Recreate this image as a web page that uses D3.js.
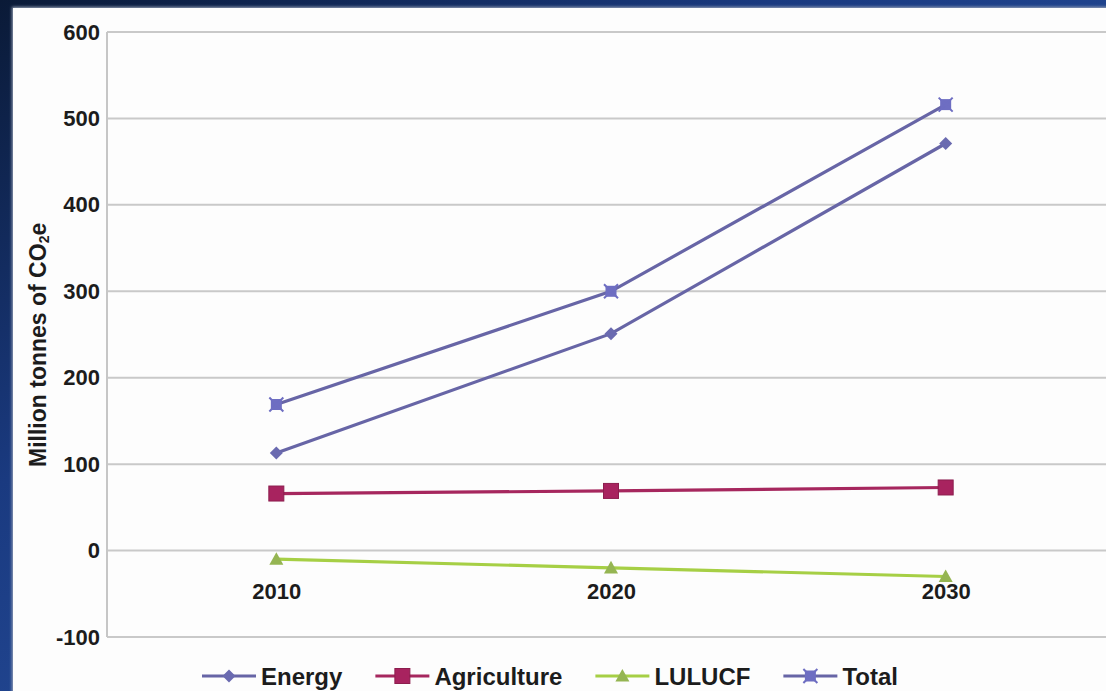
<!DOCTYPE html>
<html>
<head>
<meta charset="utf-8">
<script src="https://cdn.jsdelivr.net/npm/d3@7"></script>
<style>
  html, body { margin: 0; padding: 0; background: #0c1d3e; }
  svg { display: block; }
  text { font-family: "Liberation Sans", Arial, sans-serif; font-weight: bold; fill: #1c1c1c; }
</style>
</head>
<body>
<svg id="chart" width="1106" height="691"></svg>
<script>
// Emissions projections, million tonnes CO2e
const years = ["2010", "2020", "2030"];
const energy = [113, 251, 471];
const agriculture = [66, 69, 73];
const lulucf = [-10, -20, -30];
const total = [169, 300, 516];
const yTicks = [-100, 0, 100, 200, 300, 400, 500, 600];

const seriesList = [
  { name: "Energy", values: energy, line: "#6765a6", fill: "#6a6ab0", marker: "diamond" },
  { name: "Agriculture", values: agriculture, line: "#a6275e", fill: "#a8235f", marker: "square" },
  { name: "LULUCF", values: lulucf, line: "#a6cf45", fill: "#95b552", marker: "triangle" },
  { name: "Total", values: total, line: "#6765a6", fill: "#6e6ec2", marker: "starsquare" }
];

const svg = d3.select("#chart");
const W = 1106, H = 691;

// Backdrop: dark blue slide behind the white chart panel
const defs = svg.append("defs");
const bg = defs.append("linearGradient").attr("id", "bg")
  .attr("x1", "0").attr("y1", "0").attr("x2", "1").attr("y2", "1");
bg.append("stop").attr("offset", "0").attr("stop-color", "#0a1a37");
bg.append("stop").attr("offset", "0.35").attr("stop-color", "#1a3a80");
bg.append("stop").attr("offset", "1").attr("stop-color", "#3160b6");
svg.append("rect").attr("width", W).attr("height", H).attr("fill", "url(#bg)");

const sh = defs.append("filter").attr("id", "edge").attr("x", "-5%").attr("y", "-5%").attr("width", "110%").attr("height", "110%");
sh.append("feGaussianBlur").attr("stdDeviation", 1.5);

svg.append("rect").attr("x", 12).attr("y", 7).attr("width", W).attr("height", H)
  .attr("fill", "#9aa4b8").attr("filter", "url(#edge)");
svg.append("rect").attr("x", 13).attr("y", 8).attr("width", W).attr("height", H)
  .attr("fill", "#fdfdfd");

// Scales
const x = d3.scalePoint().domain(years).range([109, 1113]).padding(0.5);
const y = d3.scaleLinear().domain([-100, 600]).range([637, 32]);

// Horizontal gridlines
svg.append("g").selectAll("line").data(yTicks).join("line")
  .attr("x1", 107).attr("x2", W)
  .attr("y1", d => y(d)).attr("y2", d => y(d))
  .attr("stroke", "#c9c9c9").attr("stroke-width", 2);

// Vertical value axis line
svg.append("line").attr("x1", 107).attr("x2", 107)
  .attr("y1", y(600)).attr("y2", y(-100))
  .attr("stroke", "#c6c6c6").attr("stroke-width", 2);

// Y tick labels via d3 axis
const yAxis = svg.append("g").attr("transform", "translate(107,0)")
  .call(d3.axisLeft(y).tickValues(yTicks).tickSize(0).tickPadding(7).tickFormat(d => String(d)));
yAxis.select(".domain").remove();
yAxis.selectAll("text").style("font-size", "22px").style("font-family", "'Liberation Sans', Arial, sans-serif")
  .style("font-weight", "bold").attr("fill", "#1c1c1c");

// Category labels under the zero line
const xAxis = svg.append("g").attr("transform", `translate(0,${y(0) + 41})`)
  .call(d3.axisBottom(x).tickSize(0).tickPadding(0));
xAxis.select(".domain").remove();
xAxis.selectAll("text").style("font-size", "22px").style("font-family", "'Liberation Sans', Arial, sans-serif")
  .style("font-weight", "bold").attr("fill", "#1c1c1c").attr("dy", "0.36em");

// Y axis title
svg.append("text")
  .attr("transform", `translate(46,${y(238)}) rotate(-90)`)
  .attr("text-anchor", "middle")
  .style("font-size", "23px")
  .html('Million tonnes of CO<tspan font-size="14" dy="3">2</tspan><tspan dy="-3">e</tspan>');

// Marker drawing
function marker(g, kind, fill, cx, cy, s) {
  if (kind === "diamond") {
    g.append("path").attr("d", `M${cx},${cy - s}L${cx + s},${cy}L${cx},${cy + s}L${cx - s},${cy}Z`).attr("fill", fill);
  } else if (kind === "square") {
    g.append("rect").attr("x", cx - s).attr("y", cy - s).attr("width", 2 * s).attr("height", 2 * s)
      .attr("fill", fill).attr("stroke", "#8c1e4e").attr("stroke-width", 1);
  } else if (kind === "triangle") {
    g.append("path").attr("d", `M${cx},${cy - s}L${cx + s},${cy + s * 0.8}L${cx - s},${cy + s * 0.8}Z`).attr("fill", fill);
  } else {
    g.append("rect").attr("x", cx - s).attr("y", cy - s).attr("width", 2 * s).attr("height", 2 * s).attr("fill", fill);
    g.append("path").attr("d", `M${cx - s - 1.5},${cy - s - 1.5}L${cx + s + 1.5},${cy + s + 1.5}M${cx - s - 1.5},${cy + s + 1.5}L${cx + s + 1.5},${cy - s - 1.5}`)
      .attr("stroke", fill).attr("stroke-width", 2);
  }
}
const markerSize = { diamond: 6.5, square: 7.5, triangle: 7, starsquare: 5.5 };

const line = d3.line().x((d, i) => x(years[i])).y(d => y(d));
seriesList.forEach(s => {
  const g = svg.append("g");
  g.append("path").datum(s.values).attr("d", line)
    .attr("fill", "none").attr("stroke", s.line).attr("stroke-width", 3.2);
  s.values.forEach((v, i) => marker(g, s.marker, s.fill, x(years[i]), y(v), markerSize[s.marker]));
});

// Legend along the bottom
const legend = svg.append("g").attr("transform", "translate(0,676)");
let lx = 202;
seriesList.forEach(s => {
  const g = legend.append("g");
  g.append("line").attr("x1", lx).attr("x2", lx + 54).attr("y1", 0).attr("y2", 0)
    .attr("stroke", s.line).attr("stroke-width", 3.2);
  marker(g, s.marker, s.fill, lx + 27, 0, markerSize[s.marker]);
  const t = g.append("text").attr("x", lx + 59).attr("y", 0).attr("dy", "0.36em")
    .style("font-size", "24px").text(s.name);
  lx = lx + 59 + t.node().getComputedTextLength() + 33;
});
</script>
</body>
</html>
